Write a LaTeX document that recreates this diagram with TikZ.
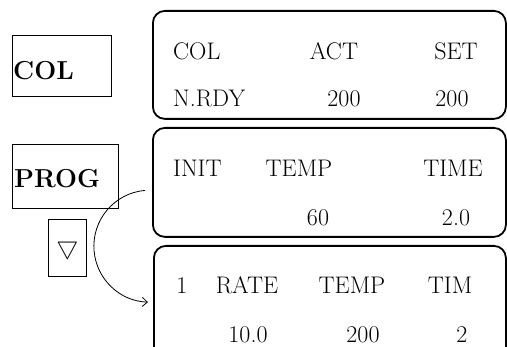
\documentclass[tikz,border=0pt]{standalone}
\usepackage{fontspec}
\usetikzlibrary{positioning,arrows.meta}
\begin{document}
\begin{tikzpicture}[x=1pt,y=-1pt,
		screen/.style={draw, line width=1.8pt, rounded corners=12pt, inner sep=0pt, anchor=north west},
		keybox/.style={draw, line width=1pt, inner sep=0pt, anchor=north west},
		lbl/.style={inner sep=0pt, font=\fontsize{24}{28}\selectfont},
		keylbl/.style={anchor=base west, inner sep=0pt, font=\fontsize{26}{30}\selectfont\bfseries}]
		\useasboundingbox (0,0) rectangle (507,347);
		\clip (0,0) rectangle (507,347);
		
		% Tasten links
		\node[keybox, minimum width=99pt, minimum height=61pt] (keyCol) at (12,35) {};
		\node[keybox, minimum width=106pt, minimum height=64pt] (keyProg) at (12,144) {};
		\node[keybox, minimum width=38pt, minimum height=57pt] (keyDown) at (48,219) {};
		\node[keylbl] (keyColTxt) at (13,80) {COL};
		\node[keylbl] (keyProgTxt) at (14,188) {PROG};
		\node[inner sep=0pt, font=\fontsize{24}{28}\selectfont] (keyDownTxt) at (keyDown.center) {$\bigtriangledown$};
		
		% Anzeigen rechts
		\node[screen, minimum width=353pt, minimum height=108pt] (scrCol) at (152,10) {};
		\node[screen, minimum width=353pt, minimum height=109pt] (scrInit) at (152,127) {};
		\node[screen, minimum width=352pt, minimum height=125pt] (scrRate) at (153,245) {};
		
		% Beschriftungen in den Anzeigen (x/y/Anker/Text)
		\foreach \x/\y/\a/\txt [count=\i] in {
			173/60/base west/COL, 334/60/base/ACT, 456/60/base/SET,
			173/107/base west/N.RDY, 344/107/base/200, 452/107/base/200,
			173/177/base west/INIT, 299/177/base/TEMP, 453/177/base/TIME,
			318/226/base/60, 456/226/base/2.0,
			182/294/base/1, 247/294/base/RATE, 352/294/base/TEMP, 450/294/base/TIM,
			248/343/base/10.0, 363/343/base/200, 462/343/base/2
		} {
			\node[lbl, anchor=\a] (txt\i) at (\x,\y) {\txt};
		}
		
		% Pfeil von INIT nach Schritt 1
		\draw[line width=0.8pt, -{Straight Barb[length=5pt,width=9pt]}]
			([shift={(-7,8)}]scrInit.west) coordinate (arcStart)
			arc[start angle=265, end angle=92, radius=56];
	\end{tikzpicture}
\end{document}
